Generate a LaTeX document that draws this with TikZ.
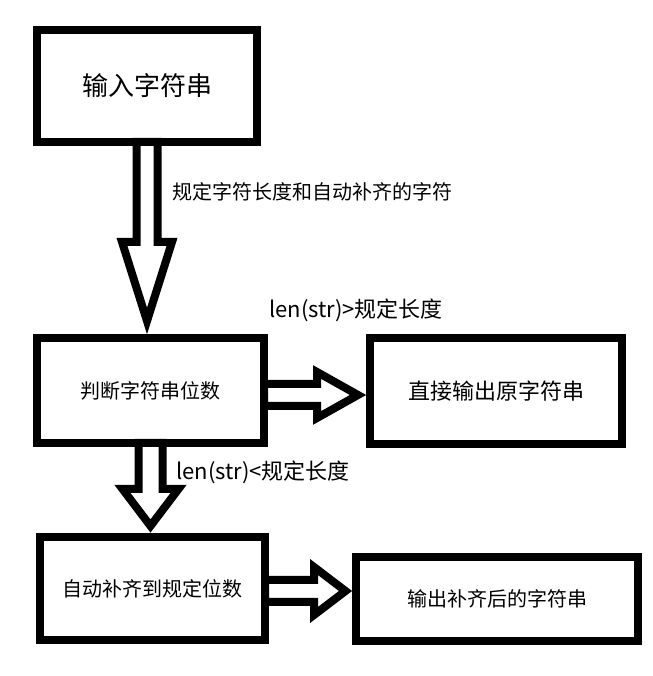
\documentclass[tikz,border=0pt]{standalone}
\usepackage{fontspec}
\setmainfont{Noto Sans CJK SC}
\usetikzlibrary{calc}

% hollow arrows: from, to, base, head, shaft, tip (, shift down)
\newcommand{\arrowdown}[6]{%
    \draw[hollow] let \p1=(#1.south), \p2=(#2.north) in
        (\x1-#5,\y1+4) -- (\x1-#5,\y2+#3) -- (\x1-#4,\y2+#3) -- (\x1,\y2+#6)
        -- (\x1+#4,\y2+#3) -- (\x1+#5,\y2+#3) -- (\x1+#5,\y1+4) -- cycle;
}
\newcommand{\arrowright}[7]{%
    \draw[hollow] let \p1=(#1.east), \p2=(#2.west) in
        (\x1-4,\y1-#7-#5) -- (\x2-#3,\y1-#7-#5) -- (\x2-#3,\y1-#7-#4) -- (\x2-#6,\y1-#7)
        -- (\x2-#3,\y1-#7+#4) -- (\x2-#3,\y1-#7+#5) -- (\x1-4,\y1-#7+#5) -- cycle;
}

\begin{document}
\begin{tikzpicture}[
            x=1pt, y=1pt,
            box/.style = {shape=rectangle, draw, line width=8pt, inner sep=0pt, align=center, font=\fontsize{20}{24}\selectfont},
            lbl/.style = {anchor=west, inner sep=0pt, font=\fontsize{20}{24}\selectfont},
            hollow/.style = {draw, fill=white, line width=8pt, line join=miter}
        ]
        \useasboundingbox (0,0) rectangle (652,676);

        \node[box, minimum width=220pt, minimum height=112pt, font=\fontsize{26}{30}\selectfont] (input) at (147,590) {输入字符串};
        \node[box, minimum width=227pt, minimum height=105pt] (judge) at (150.5,285.5) {判断字符串位数};
        \node[box, minimum width=252pt, minimum height=106pt, font=\fontsize{22}{26}\selectfont] (direct) at (496,285) {直接输出原字符串};
        \node[box, minimum width=225pt, minimum height=103pt] (pad) at (152.5,87.5) {自动补齐到规定位数};
        \node[box, minimum width=282pt, minimum height=84pt] (output) at (497,77) {输出补齐后的字符串};

        \arrowdown{input}{judge}{92}{25}{10.5}{13}
        \arrowright{judge}{direct}{49}{23}{11}{8}{4.5}
        \arrowdown{judge}{pad}{44}{28}{12}{7}
        \arrowright{pad}{output}{38}{24}{11}{6.5}{2.5}

        \node[lbl] (rule) at (172,484) {规定字符长度和自动补齐的字符};
        \node[lbl, font=\fontsize{22}{26}\selectfont] (longer) at (269,366) {len(str)>规定长度};
        \node[lbl, font=\fontsize{22}{26}\selectfont] (shorter) at (176,204) {len(str)<规定长度};
    \end{tikzpicture}
\end{document}
